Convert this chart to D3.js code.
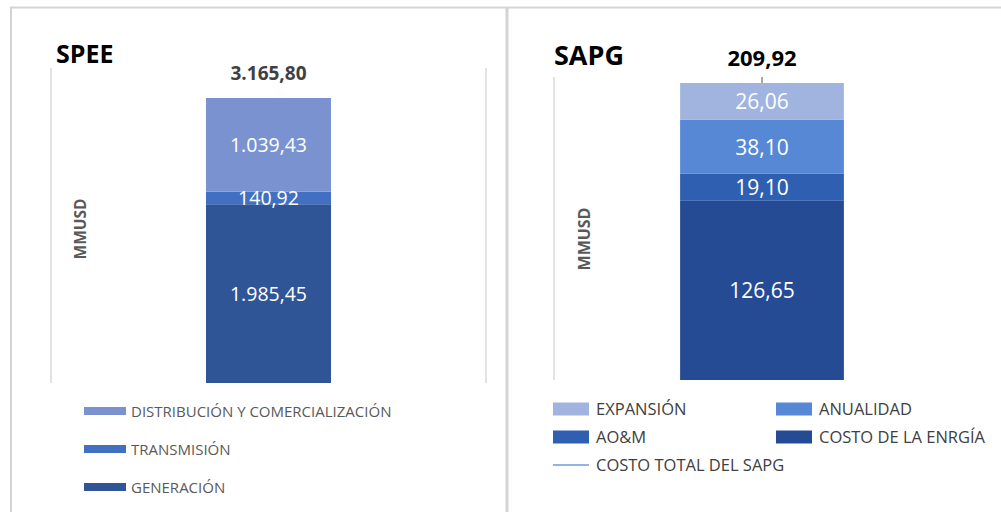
<!DOCTYPE html>
<html><head><meta charset="utf-8">
<script src="https://cdn.jsdelivr.net/npm/d3@7"></script>
<style>body{margin:0;background:#fff}svg{display:block}</style>
</head><body>
<svg id="c" width="1001" height="512"></svg>
<script>
// SPEE data
const speeCategories = ["GENERACIÓN","TRANSMISIÓN","DISTRIBUCIÓN Y COMERCIALIZACIÓN"];
const speeValues = [1985.45, 140.92, 1039.43];
const speeLabels = ["1.985,45","140,92","1.039,43"];
const speeTotalLabel = "3.165,80";
const speeLegendOrder = ["DISTRIBUCIÓN Y COMERCIALIZACIÓN","TRANSMISIÓN","GENERACIÓN"];
// SAPG data
const sapgCategories = ["COSTO DE LA ENRGÍA","AO&M","ANUALIDAD","EXPANSIÓN"];
const sapgValues = [126.65, 19.10, 38.10, 26.06];
const sapgLabels = ["126,65","19,10","38,10","26,06"];
const sapgTotal = 209.92;
const sapgTotalLabel = "209,92";
const sapgLineSeries = "COSTO TOTAL DEL SAPG";

const speeColors = {"GENERACIÓN":"#2f5597","TRANSMISIÓN":"#4170c2","DISTRIBUCIÓN Y COMERCIALIZACIÓN":"#7a93d0"};
const sapgColors = {"COSTO DE LA ENRGÍA":"#244b94","AO&M":"#2f5fb0","ANUALIDAD":"#5688d6","EXPANSIÓN":"#a0b4df"};

const svg = d3.select("#c");
const grid = "#d9d9d9";

// panel frames
svg.append("line").attr("x1",10).attr("x2",1001).attr("y1",7.5).attr("y2",7.5).attr("stroke","#d4d4d4").attr("stroke-width",2);
svg.append("line").attr("x1",11).attr("x2",11).attr("y1",7).attr("y2",512).attr("stroke","#d4d4d4").attr("stroke-width",2);
svg.append("line").attr("x1",507).attr("x2",507).attr("y1",7).attr("y2",512).attr("stroke","#d4d4d4").attr("stroke-width",3);

const font = "'Open Sans', sans-serif";

// ---------- SPEE ----------
{
  const g = svg.append("g");
  const x = d3.scaleBand().domain(["SPEE"]).range([51,486]).paddingInner(0).paddingOuter(1.24);
  const total = d3.sum(speeValues);
  const y = d3.scaleLinear().domain([0,total]).range([383,98]);
  g.append("line").attr("x1",51).attr("x2",51).attr("y1",68).attr("y2",383).attr("stroke",grid).attr("stroke-width",1.5);
  g.append("line").attr("x1",486).attr("x2",486).attr("y1",68).attr("y2",383).attr("stroke",grid).attr("stroke-width",1.5);
  let acc = 0;
  const segs = speeValues.map((v,i)=>{const s={cat:speeCategories[i],y0:acc,y1:acc+v,label:speeLabels[i]};acc+=v;return s;});
  g.selectAll("rect.s").data(segs).join("rect")
    .attr("x",x("SPEE")).attr("width",x.bandwidth())
    .attr("y",d=>y(d.y1)).attr("height",d=>y(d.y0)-y(d.y1))
    .attr("fill",d=>speeColors[d.cat]);
  g.selectAll("text.v").data(segs).join("text")
    .attr("x",x("SPEE")+x.bandwidth()/2).attr("y",d=>y((d.y0+d.y1)/2)+7)
    .attr("text-anchor","middle").attr("fill","#fff").attr("font-family",font).attr("font-size",19.5)
    .text(d=>d.label);
  g.append("text").attr("x",x("SPEE")+x.bandwidth()/2).attr("y",y(total)-18)
    .attr("text-anchor","middle").attr("fill","#404040").attr("font-family",font).attr("font-weight","bold").attr("font-size",19)
    .text(speeTotalLabel);
  g.append("text").attr("x",56).attr("y",63).attr("font-family",font).attr("font-weight","bold").attr("font-size",25).attr("fill","#000").text("SPEE");
  g.append("text").attr("transform","translate(86,229) rotate(-90)").attr("text-anchor","middle")
    .attr("font-family",font).attr("font-weight","bold").attr("font-size",15.5).attr("fill","#595959").text("MMUSD");
  const lg = g.selectAll("g.l").data(speeLegendOrder).join("g").attr("transform",(d,i)=>`translate(84,${411+i*38})`);
  lg.append("rect").attr("x",0).attr("y",-4).attr("width",42).attr("height",8).attr("fill",d=>speeColors[d]);
  lg.append("text").attr("x",47).attr("y",5.5).attr("font-family",font).attr("font-size",15).attr("fill","#595959").text(d=>d);
}

// ---------- SAPG ----------
{
  const g = svg.append("g");
  const x = d3.scaleBand().domain(["SAPG"]).range([554,970]).paddingInner(0).paddingOuter(0.77);
  const y = d3.scaleLinear().domain([0,sapgTotal]).range([380,83]);
  g.append("line").attr("x1",554).attr("x2",554).attr("y1",77).attr("y2",380).attr("stroke",grid).attr("stroke-width",1.5);
  let acc = 0;
  const segs = sapgValues.map((v,i)=>{const s={cat:sapgCategories[i],y0:acc,y1:acc+v,label:sapgLabels[i]};acc+=v;return s;});
  g.selectAll("rect.s").data(segs).join("rect")
    .attr("x",x("SAPG")).attr("width",x.bandwidth())
    .attr("y",d=>y(d.y1)).attr("height",d=>y(d.y0)-y(d.y1))
    .attr("fill",d=>sapgColors[d.cat]);
  g.selectAll("text.v").data(segs).join("text")
    .attr("x",x("SAPG")+x.bandwidth()/2).attr("y",d=>y((d.y0+d.y1)/2)+8)
    .attr("text-anchor","middle").attr("fill","#fff").attr("font-family",font).attr("font-size",21)
    .text(d=>d.label);
  // total line series marker
  const cx = x("SAPG")+x.bandwidth()/2;
  g.append("line").attr("x1",cx).attr("x2",cx).attr("y1",y(sapgTotal)-6).attr("y2",y(sapgTotal)).attr("stroke","#8c8c8c").attr("stroke-width",1.5);
  g.append("text").attr("x",cx).attr("y",y(sapgTotal)-17)
    .attr("text-anchor","middle").attr("fill","#000").attr("font-family",font).attr("font-weight","bold").attr("font-size",22)
    .text(sapgTotalLabel);
  g.append("text").attr("x",554).attr("y",65).attr("font-family",font).attr("font-weight","bold").attr("font-size",27).attr("fill","#000").text("SAPG");
  g.append("text").attr("transform","translate(590,239) rotate(-90)").attr("text-anchor","middle")
    .attr("font-family",font).attr("font-weight","bold").attr("font-size",16).attr("fill","#595959").text("MMUSD");
  const legendItems = ["EXPANSIÓN","ANUALIDAD","AO&M","COSTO DE LA ENRGÍA"];
  const lg = g.selectAll("g.l").data(legendItems).join("g")
    .attr("transform",(d,i)=>`translate(${i%2===0?553:776},${409+Math.floor(i/2)*28})`);
  lg.append("rect").attr("x",0).attr("y",-6.5).attr("width",36).attr("height",13).attr("fill",d=>sapgColors[d]);
  lg.append("text").attr("x",43).attr("y",6).attr("font-family",font).attr("font-size",16.5).attr("fill","#404040").text(d=>d);
  const ll = g.append("g").attr("transform","translate(553,465)");
  ll.append("line").attr("x1",0).attr("x2",36).attr("y1",0).attr("y2",0).attr("stroke","#6f98e0").attr("stroke-width",1.5);
  ll.append("text").attr("x",43).attr("y",6).attr("font-family",font).attr("font-size",16.5).attr("fill","#404040").text(sapgLineSeries);
}
</script>
</body></html>
